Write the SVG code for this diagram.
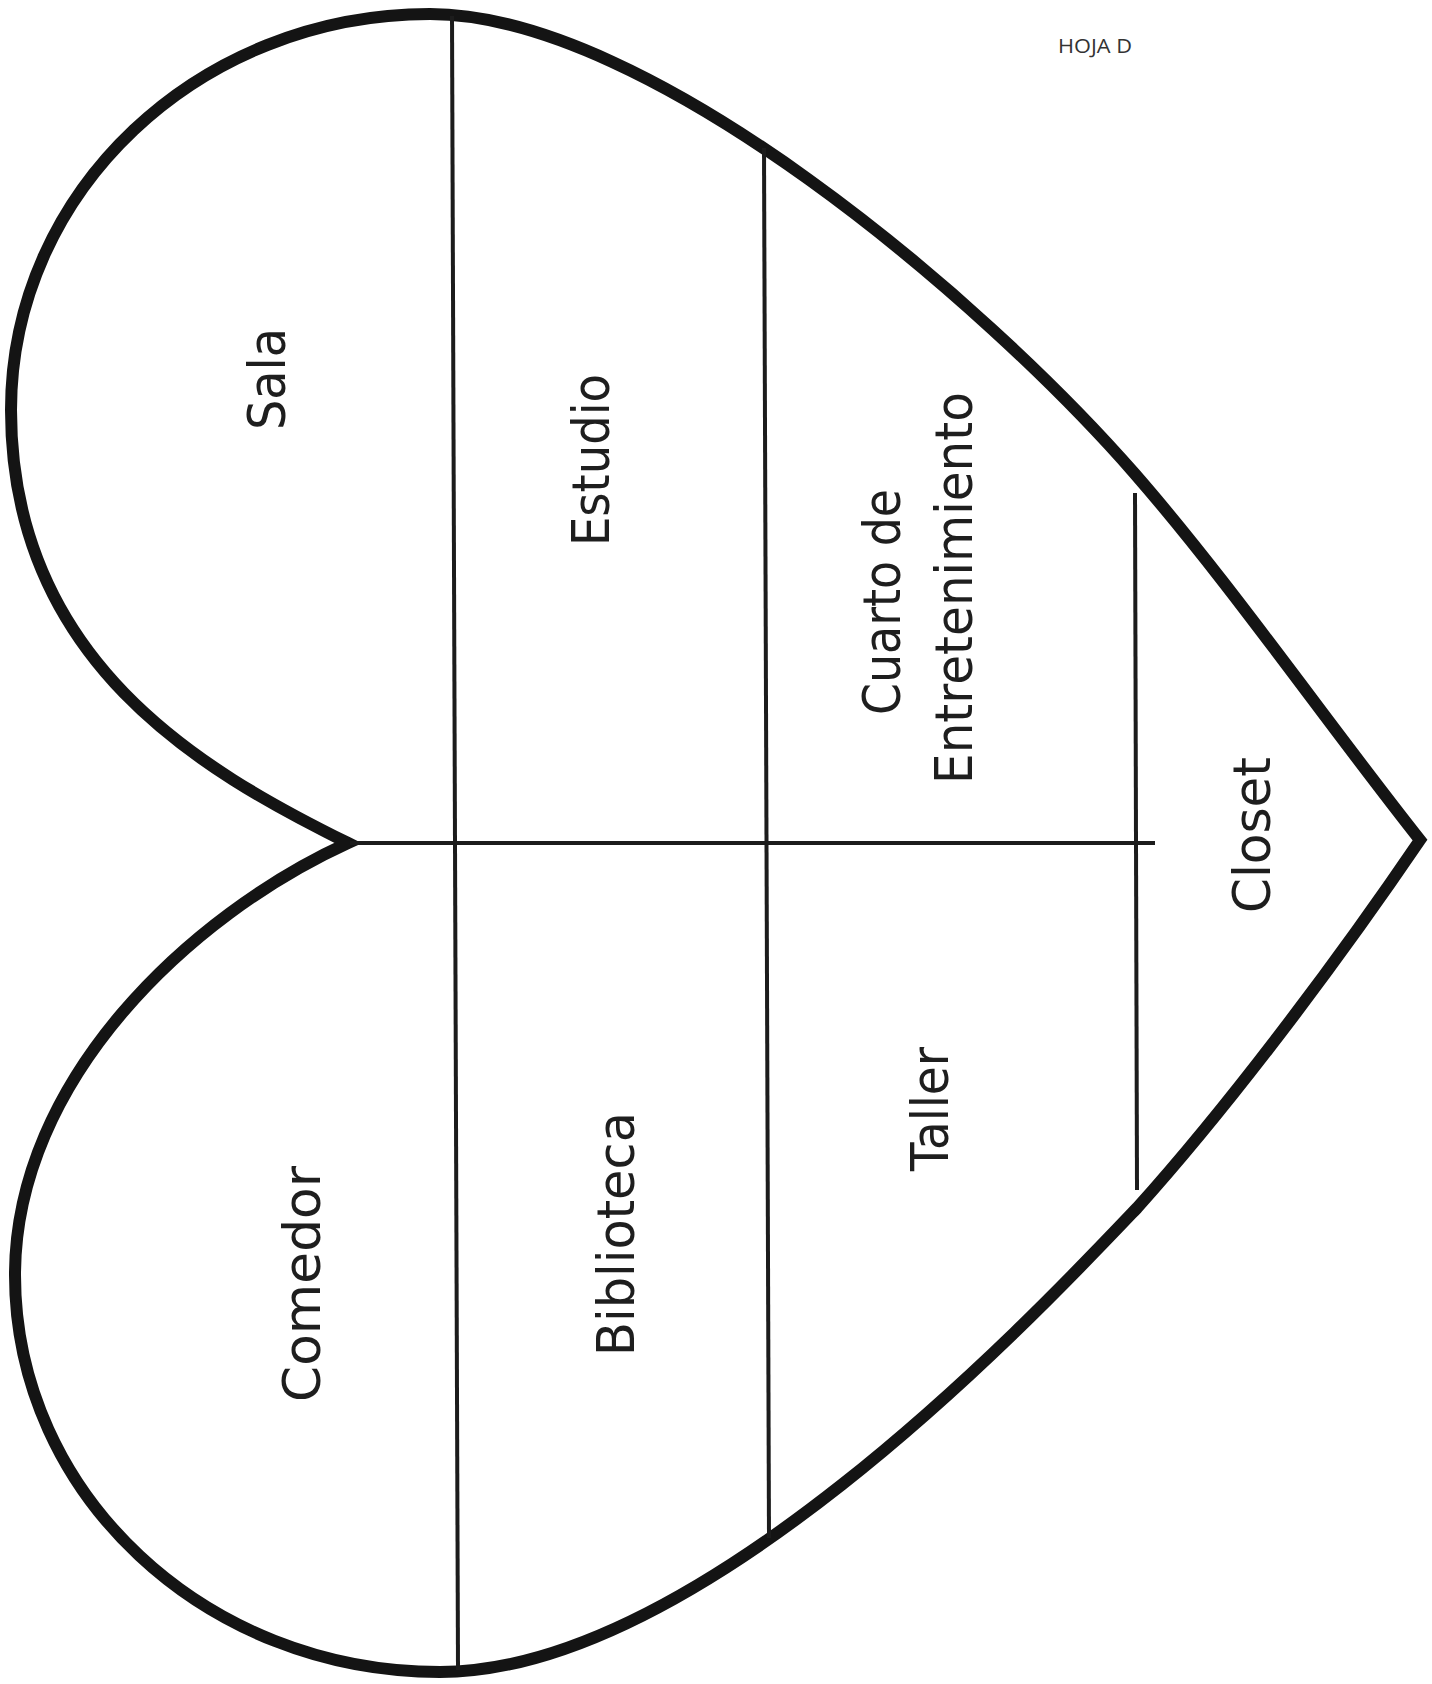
<svg xmlns="http://www.w3.org/2000/svg" width="1432" height="1684" viewBox="0 0 1432 1684">
<style>
.outline{fill:none;stroke:#141414;stroke-width:12;stroke-linejoin:miter;stroke-miterlimit:10}
.div{fill:none;stroke:#1c1c1c;stroke-width:4;stroke-linecap:butt}
.lbl{font-family:"DejaVu Sans","Liberation Sans",sans-serif;font-size:51px;fill:#1e1e1e;text-anchor:middle}
.hdr{font-family:"Open Sans","Liberation Sans",sans-serif;font-size:20px;fill:#333}
</style>
<rect width="1432" height="1684" fill="#fff"/>
<g id="heart">
<path class="outline" d="M 348 843 C 200 770 11 660 11 410 C 11 191 199 14 430 14 C 650 14 985 302 1135 474 C 1230 583 1325 720 1420 840 C 1335 965 1227 1108 1137 1208 C 1037 1313 700 1672 440 1672 C 205 1672 15 1494 15 1275 C 15 1080 190 915 348 843 Z"/>
</g>
<g id="connectors">
<line class="div" x1="452" y1="16" x2="458" y2="1670"/>
<line class="div" x1="764" y1="148" x2="769" y2="1538"/>
<line class="div" x1="1135" y1="493" x2="1137" y2="1190"/>
<line class="div" x1="350" y1="843" x2="1155" y2="843"/>
</g>
<g id="sala"><text class="lbl" transform="translate(285,379) rotate(-90)" textLength="102" lengthAdjust="spacingAndGlyphs">Sala</text></g>
<g id="estudio"><text class="lbl" transform="translate(609,460) rotate(-90)" textLength="172" lengthAdjust="spacingAndGlyphs">Estudio</text></g>
<g id="cuarto"><text class="lbl" transform="translate(900,602) rotate(-90)" textLength="226" lengthAdjust="spacingAndGlyphs">Cuarto de</text><text class="lbl" transform="translate(972,588) rotate(-90)" textLength="392" lengthAdjust="spacingAndGlyphs">Entretenimiento</text></g>
<g id="closet"><text class="lbl" transform="translate(1270,835) rotate(-90)" textLength="156" lengthAdjust="spacingAndGlyphs">Closet</text></g>
<g id="comedor"><text class="lbl" transform="translate(320,1284) rotate(-90)" textLength="236" lengthAdjust="spacingAndGlyphs">Comedor</text></g>
<g id="biblioteca"><text class="lbl" transform="translate(634,1234) rotate(-90)" textLength="244" lengthAdjust="spacingAndGlyphs">Biblioteca</text></g>
<g id="taller"><text class="lbl" transform="translate(948,1109) rotate(-90)" textLength="124" lengthAdjust="spacingAndGlyphs">Taller</text></g>
<g id="hoja"><text class="hdr" x="1058" y="53" textLength="74" lengthAdjust="spacingAndGlyphs">HOJA D</text></g>
</svg>
